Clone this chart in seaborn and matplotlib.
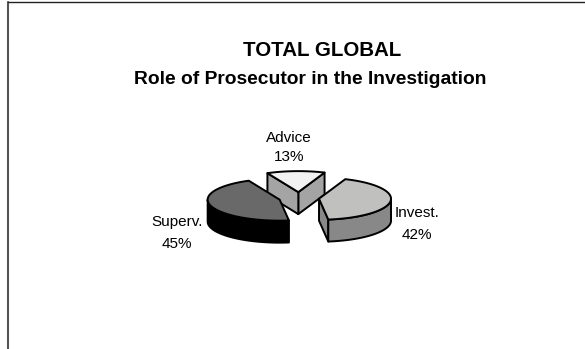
import numpy as np
import matplotlib
matplotlib.use("Agg")
import matplotlib.pyplot as plt
from matplotlib.patches import Polygon
from matplotlib.lines import Line2D
import seaborn as sns

# Survey result: role of the prosecutor in the investigation
categories = ["Advice", "Superv.", "Invest."]
shares = [13, 45, 42]
title_lines = ["TOTAL GLOBAL", "Role of Prosecutor in the Investigation"]

sns.set_theme(style="white")
plt.rcParams["font.family"] = ["Liberation Sans", "DejaVu Sans"]

top_colors = ["#F2F2F2", "#696969", "#C0C0BE"]
side_colors = ["#A4A4A4", "#000000", "#888888"]

W, H = 585, 349
fig = plt.figure(figsize=(W / 100, H / 100), dpi=100)
ax = fig.add_axes([0, 0, 1, 1])
ax.set_xlim(0, W)
ax.set_ylim(H, 0)
ax.axis("off")

# 3-D pie geometry (pixel space)
cx0, cy0 = 299, 198
rx, ry, depth = 72, 21, 22
explode = 0.28
rotation = np.deg2rad(2.0)
edge = dict(edgecolor="black", linewidth=1.4, joinstyle="round")


def rim(cx, cy, theta, dz=0.0):
    return cx + rx * np.cos(theta), cy - ry * np.sin(theta) + dz


fracs = np.array(shares, dtype=float) / sum(shares)
start = np.pi / 2 - fracs[0] * np.pi + rotation   # first slice at the top
bounds = start + 2 * np.pi * np.concatenate([[0], np.cumsum(fracs)])

slices = []
for i in range(len(shares)):
    a0, a1 = bounds[i], bounds[i + 1]
    mid = (a0 + a1) / 2
    cx = cx0 + explode * rx * np.cos(mid)
    cy = cy0 - explode * ry * np.sin(mid)
    slices.append((i, a0, a1, cx, cy))
slices.sort(key=lambda s: s[4])  # back slices first

for i, a0, a1, cx, cy in slices:
    # radial cut faces that face the viewer
    for ang, sign in ((a0, 1), (a1, -1)):
        ny = -sign * np.cos(ang)
        if ny < 0:
            px, py = rim(cx, cy, ang)
            poly = [(cx, cy), (px, py), (px, py + depth), (cx, cy + depth)]
            ax.add_patch(Polygon(poly, closed=True, facecolor=side_colors[i], **edge))
    # outer wall, front half only
    for k in range(-1, 3):
        lo = max(a0, np.pi + 2 * np.pi * k)
        hi = min(a1, 2 * np.pi + 2 * np.pi * k)
        if hi > lo:
            t = np.linspace(lo, hi, 60)
            upper = [rim(cx, cy, a) for a in t]
            lower = [rim(cx, cy, a, depth) for a in t[::-1]]
            ax.add_patch(Polygon(upper + lower, closed=True,
                                 facecolor=side_colors[i], **edge))
    # top face
    t = np.linspace(a0, a1, 120)
    poly = [(cx, cy)] + [rim(cx, cy, a) for a in t]
    ax.add_patch(Polygon(poly, closed=True, facecolor=top_colors[i], **edge))

# data labels: name and percentage
label_pos = {"Advice": (289, 138, 157), "Superv.": (177, 222, 244),
             "Invest.": (417, 213, 235)}
for name, v in zip(categories, shares):
    x, y1, y2 = label_pos[name]
    ax.text(x, y1, name, ha="center", va="center", fontsize=11, color="black")
    ax.text(x, y2, f"{v}%", ha="center", va="center", fontsize=11, color="black")

# title
ax.text(322, 50, title_lines[0], ha="center", va="center",
        fontsize=14.8, fontweight="bold", color="black")
ax.text(310, 80, title_lines[1], ha="center", va="center",
        fontsize=13.9, fontweight="bold", color="black")

# chart frame (left and top edges visible)
ax.add_line(Line2D([8, 8], [H, 2], color="#555555", linewidth=1.5))
ax.add_line(Line2D([8, W], [2, 2], color="#222222", linewidth=1.0))

fig.savefig("out.png", dpi=100, facecolor="white")
